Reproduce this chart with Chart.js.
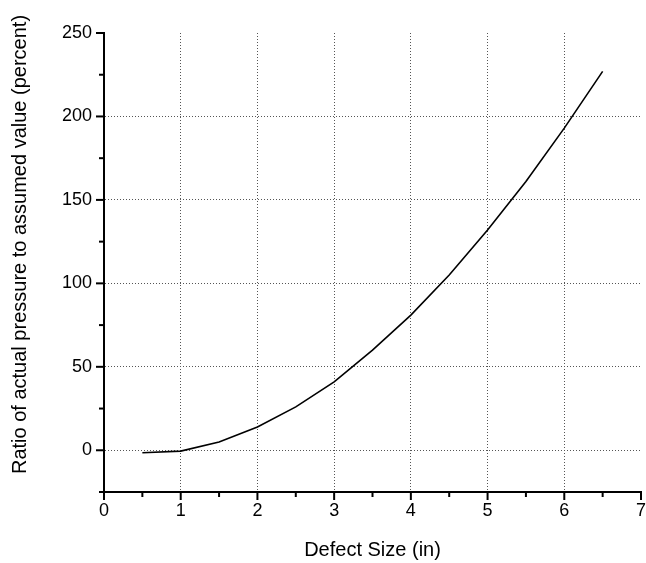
<!DOCTYPE html>
<html>
<head>
<meta charset="utf-8">
<script src="https://cdn.jsdelivr.net/npm/chart.js@4"></script>
<style>
html,body{margin:0;padding:0;background:#fff;}
#wrap{width:646px;height:563px;}
</style>
</head>
<body>
<div id="wrap"><canvas id="c" width="646" height="563"></canvas></div>
<script>
const defectSize = [0.5, 1, 1.5, 2, 2.5, 3, 3.5, 4, 4.5, 5, 5.5, 6, 6.5];
const pressureRatio = [-1.5, -0.5, 5, 14, 26, 41, 60, 81, 105, 132, 161, 193, 227];
const xTitle = 'Defect Size (in)';
const yTitle = 'Ratio of actual pressure to assumed value (percent)';
const xRange = [0, 7];
const yRange = [-25, 250];

const FONT = '"Liberation Sans", Arial, Helvetica, sans-serif';

const minorTicks = {
  id: 'minorTicks',
  afterDraw(chart) {
    const ctx = chart.ctx;
    const xs = chart.scales.x, ys = chart.scales.y;
    ctx.save();
    ctx.strokeStyle = '#000';
    ctx.lineWidth = 2;
    ctx.setLineDash([]);
    ys.ticks.forEach(t => {
      const len = (t.value % 50 === 0) ? 7 : 4;
      const p = ys.getPixelForValue(t.value);
      ctx.beginPath(); ctx.moveTo(xs.left - 1 - len, p); ctx.lineTo(xs.left, p); ctx.stroke();
    });
    xs.ticks.forEach(t => {
      const len = (Number.isInteger(t.value)) ? 7 : 4;
      const p = xs.getPixelForValue(t.value);
      ctx.beginPath(); ctx.moveTo(p, ys.bottom); ctx.lineTo(p, ys.bottom + 1 + len); ctx.stroke();
    });
    // y axis title (rotated, real text)
    const ca = chart.chartArea;
    ctx.fillStyle = '#000';
    ctx.font = '20px ' + FONT;
    ctx.textAlign = 'center';
    ctx.textBaseline = 'middle';
    ctx.translate(20, (ca.top + ca.bottom) / 2 - 18);
    ctx.rotate(-Math.PI / 2);
    ctx.fillText(yTitle, 0, 0);
    ctx.restore();
  }
};

new Chart(document.getElementById('c'), {
  type: 'line',
  data: {
    datasets: [{
      data: defectSize.map((x, i) => ({x: x, y: pressureRatio[i]})),
      borderColor: '#000',
      borderWidth: 1.6,
      pointRadius: 0,
      fill: false,
      tension: 0
    }]
  },
  options: {
    responsive: false,
    animation: false,
    layout: { padding: { top: 33, right: 5, left: 0, bottom: 0 } },
    plugins: { legend: { display: false }, tooltip: { enabled: false } },
    scales: {
      x: {
        type: 'linear',
        min: xRange[0], max: xRange[1],
        afterFit(s) { s.height = 71; s.paddingLeft = 0; s.paddingRight = 0; },
        ticks: {
          stepSize: 0.5,
          autoSkip: false,
          maxRotation: 0,
          padding: 8,
          color: '#000',
          font: { family: FONT, size: 18 },
          callback: v => Number.isInteger(v) ? String(v) : ''
        },
        grid: {
          drawTicks: false,
          color: c => (c.tick && Number.isInteger(c.tick.value) && c.tick.value > xRange[0] && c.tick.value < xRange[1]) ? '#555' : 'rgba(0,0,0,0)',
          lineWidth: 1
        },
        border: { display: true, color: '#000', width: 2, dash: [1, 2] },
        title: {
          display: true, text: xTitle, color: '#000',
          font: { family: FONT, size: 20 },
          padding: { top: 4, bottom: 1 }
        }
      },
      y: {
        type: 'linear',
        min: yRange[0], max: yRange[1],
        afterFit(s) { s.width = 104; },
        ticks: {
          stepSize: 25,
          autoSkip: false,
          padding: 12,
          color: '#000',
          font: { family: FONT, size: 18 },
          callback: v => (v % 50 === 0) ? String(v) : ''
        },
        grid: {
          drawTicks: false,
          color: c => (c.tick && c.tick.value % 50 === 0 && c.tick.value < yRange[1]) ? '#555' : 'rgba(0,0,0,0)',
          lineWidth: 1
        },
        border: { display: true, color: '#000', width: 2, dash: [1, 2] },
        title: { display: false }
      }
    }
  },
  plugins: [minorTicks]
});
</script>
</body>
</html>
